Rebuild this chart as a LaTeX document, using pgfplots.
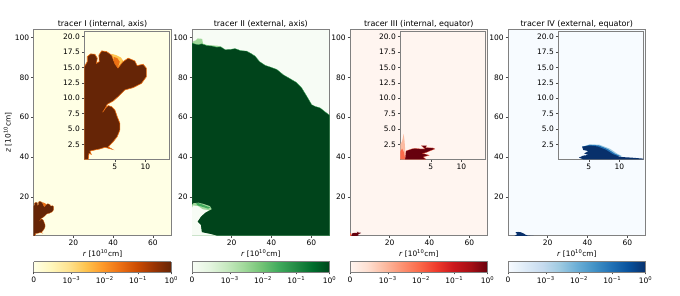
\documentclass[border=0pt]{standalone}
\usepackage{fontspec}
\setmainfont{DejaVu Sans}
\usepackage{pgfplots}
\usepackage{pgfplotstable}
\pgfplotsset{compat=1.18}
\definecolor{ybg}{HTML}{FFFFE5}\definecolor{ydk}{HTML}{662506}\definecolor{ymd}{HTML}{EC7014}\definecolor{ylt}{HTML}{FEC44F}
\definecolor{gbg}{HTML}{F7FCF5}\definecolor{gdk}{HTML}{00441B}\definecolor{gmd}{HTML}{41AB5D}\definecolor{glt}{HTML}{A1D99B}
\definecolor{rbg}{HTML}{FFF5F0}\definecolor{rdk}{HTML}{67000D}\definecolor{rmd}{HTML}{FB6A4A}\definecolor{rlt}{HTML}{FCBBA1}
\definecolor{bbg}{HTML}{F7FBFF}\definecolor{bdk}{HTML}{08306B}\definecolor{bmd}{HTML}{2171B5}\definecolor{blt}{HTML}{9ECAE1}
\definecolor{spine}{gray}{0.5}
\pgfplotsset{
 colormap={cI}{HTML=(FFFFE5) HTML=(FFF7BC) HTML=(FEE391) HTML=(FEC44F) HTML=(FE9929) HTML=(EC7014) HTML=(CC4C02) HTML=(993404) HTML=(662506)},
 colormap={cII}{HTML=(F7FCF5) HTML=(E5F5E0) HTML=(C7E9C0) HTML=(A1D99B) HTML=(74C476) HTML=(41AB5D) HTML=(238B45) HTML=(006D2C) HTML=(00441B)},
 colormap={cIII}{HTML=(FFF5F0) HTML=(FEE0D2) HTML=(FCBBA1) HTML=(FC9272) HTML=(FB6A4A) HTML=(EF3B2C) HTML=(CB181D) HTML=(A50F15) HTML=(67000D)},
 colormap={cIV}{HTML=(F7FBFF) HTML=(DEEBF7) HTML=(C6DBEF) HTML=(9ECAE1) HTML=(6BAED6) HTML=(4292C6) HTML=(2171B5) HTML=(08519C) HTML=(08306B)},
 base/.style={scale only axis,anchor=south west,axis line style={draw=spine,line width=0.7pt},
   tick style={draw=black!70,line width=0.4pt},major tick length=2.4pt,tick align=outside,
   xtick pos=bottom,ytick pos=left,
   tick label style={font=\fontsize{7.5}{8}\selectfont},
   label style={font=\fontsize{7.4}{8}\selectfont},
   title style={font=\fontsize{8}{9}\selectfont,at={(0.5,1)},anchor=south,yshift=-8pt},
   xticklabel style={yshift=1.5pt},yticklabel style={xshift=1.5pt}},
 mainax/.style={base,width=137.6pt,height=206.4pt,xmin=0.1,xmax=69.2,ymin=0.4,ymax=104.2,
   xtick={20,40,60},xticklabels={20,40,60},ytick={20,40,60,80,100},yticklabels={20,40,60,80,100},
   xlabel={\textit{r} [10\textsuperscript{10}cm]},xlabel style={yshift=3pt}},
 insetax/.style={base,width=85pt,height=127.6pt,xmin=0,xmax=13.9,ymin=0.06,ymax=20.8,
   xtick={5,10},xticklabels={5,10},ytick={2.5,5,7.5,10,12.5,15,17.5,20},
   yticklabels={2.5,5.0,7.5,10.0,12.5,15.0,17.5,20.0}},
 cbax/.style={base,width=137.6pt,height=10.3pt,xmin=0,xmax=1,ymin=0,ymax=1,view={0}{90},axis on top,
   ytick=\empty,xtick={0,0.274,0.516,0.758,1},
   xticklabels={0,10\textsuperscript{−3},10\textsuperscript{−2},10\textsuperscript{−1},10\textsuperscript{0}},
   point meta min=0,point meta max=1},
}
\pgfplotstableread{
x y
0 0.06
0.65 0.06
0.76 1.03
1.14 0.87
0.92 1.4
1.74 1.58
2.55 1.74
3.37 2.01
4.57 1.69
3.91 2.07
4.73 2.93
5.38 3.75
5.82 4.83
5.82 5.91
5.38 7.0
5.0 8.08
4.46 8.62
3.91 8.79
3.53 8.46
3.0 7.7
3.42 8.35
3.75 9.0
4.73 9.54
5.54 10.25
6.63 11.33
7.99 11.71
9.35 12.4
10.16 13.5
10.16 14.86
9.62 15.5
8.64 15.3
8.26 16.05
7.17 16.5
6.3 15.9
5.5 14.9
5.0 15.6
4.46 17.0
3.64 17.57
2.83 17.68
2.39 17.0
2.45 15.94
2.0 15.67
2.12 16.5
1.74 17.13
1.03 17.19
0.49 16.75
0.49 15.94
0 15.1
}\tI
\pgfplotstableread{
x y
4.46 17.2
5.2 17.0
6.0 16.6
6.4 16.0
5.7 14.7
5.0 15.4
}\tIf
\pgfplotstableread{
x y
4.8 16.7
5.4 16.5
5.8 15.9
5.5 15.0
4.9 15.6
}\tIg
\pgfplotstableread{
x y
0.1 0.4
0.1 97.4
1.5 96.8
3.3 96.5
5.0 96.9
7.5 96.0
10.0 95.8
12.5 95.2
14.5 95.4
16.7 94.0
19.5 94.1
21.7 94.5
24.5 93.5
27.6 93.2
29.8 92.0
31.8 90.7
34.0 88.0
36.8 86.1
39.5 85.2
42.7 84.0
46.0 81.3
49.3 79.4
52.5 77.5
55.2 74.7
57.7 70.6
60.2 66.3
62.0 65.4
64.4 64.7
66.8 62.8
69.2 61.0
69.2 0.4
}\tII
\pgfplotstableread{
x y
0.1 96
0.8 98.2
2.0 98.6
3.0 99.6
5.2 99.4
5.6 97
8.0 96.2
12.5 96.0
15 95.4
12 94
0.1 94
}\tIIf
\pgfplotstableread{
x y
0.1 0.4
12.5 0.4
9.1 1.25
4.96 2.1
4.46 5.8
2.8 7.46
4.46 10
6.64 12
10 13.7
9.1 15.3
5.8 16.4
3.3 17
0.77 16.7
0.1 15.8
}\tIIg
\pgfplotstableread{
x y
0.1 0.4
12.5 0.4
9.1 1.25
4.96 2.1
4.46 5.8
2.8 7.46
4.46 10
6.64 12
8.5 13.2
5.4 13.7
3.3 15.2
0.8 15.6
0.1 14.5
}\tIIh
\pgfplotstableread{
x y
2.0 16.6
3.4 16.8
5.0 16.2
7.0 15.4
9.2 14.6
8.2 14.0
6.4 14.6
4.4 15.2
3.0 15.6
}\tIIs
\pgfplotstableread{
x y
0.77 0.06
0.93 1.42
1.85 1.74
2.4 1.85
3.32 1.74
4.03 1.74
3.43 2.28
4.3 2.28
4.13 1.96
5.38 1.9
5.66 1.74
4.84 1.42
4.19 1.14
3.65 1.04
4.73 0.71
3.75 0.44
4.19 0.06
}\tIII
\pgfplotstableread{
x y
0 0.06
0 2.5
0.3 3
0.55 4.2
0.7 3
0.8 1.5
0.8 0.06
}\tIIIs
\pgfplotstableread{
x y
0 0.06
0 1.3
0.3 1.8
0.6 1.2
0.8 0.06
}\tIIIt
\pgfplotstableread{
x y
4.07 0.06
3.37 0.33
4.07 0.66
4.9 0.76
4.24 1.0
4.9 1.4
4.07 1.58
3.9 2.1
5.16 2.3
6.4 2.15
7.8 1.6
8.9 0.9
10.1 0.44
12 0.33
13.86 0.17
16 0.06
}\tIV
\pgfplotstableread{
x y
3.9 2.1
5.16 2.4
6.6 2.32
8.1 1.72
9.2 1.0
10.33 0.5
9.0 0.6
}\tIVg
\pgfplotstableread{
x y
3.9 2.1
5.16 2.5
6.7 2.44
8.4 1.8
9.6 1.0
10.5 0.55
9.0 0.6
}\tIVf
\begin{document}
\begin{tikzpicture}
\useasboundingbox (0pt,0pt) rectangle (680pt,295pt);
% Panel I
\begin{axis}[mainax,at={(33.7pt,59.3pt)},axis background/.style={fill=ybg},title={tracer I (internal, axis)},
  ylabel={\textit{z} [10\textsuperscript{10}cm]},ylabel style={yshift=-3.5pt}]
\addplot[fill=ymd,draw=none,forget plot] table {\tIf} -- cycle;
\addplot[fill=ydk,draw=ymd,line width=0.2pt] table {\tI} -- cycle;
\end{axis}
\begin{axis}[insetax,at={(84.3pt,135.7pt)},axis background/.style={fill=ybg}]
\addplot[fill=ylt,draw=none,forget plot] table {\tIf} -- cycle;
\addplot[fill=ymd,draw=none,forget plot] table {\tIg} -- cycle;
\addplot[fill=ydk,draw=ymd,line width=0.6pt] table {\tI} -- cycle;
\end{axis}
\begin{axis}[cbax,at={(33.7pt,23pt)},colormap name=cI]
\addplot3[surf,shader=interp,point meta=x,mesh/cols=2] coordinates {(0,0,0)(1,0,0)(0,1,0)(1,1,0)};
\end{axis}
% Panel II
\begin{axis}[mainax,at={(192pt,59.3pt)},axis background/.style={fill=gbg},title={tracer II (external, axis)}]
\addplot[fill=glt,draw=none,forget plot] table {\tIIf} -- cycle;
\addplot[fill=gdk,draw=gmd,line width=0.3pt] table {\tII} -- cycle;
\addplot[fill=glt,draw=none] table {\tIIg} -- cycle;
\addplot[fill=gmd,draw=none] table {\tIIs} -- cycle;
\addplot[fill=gbg,draw=none] table {\tIIh} -- cycle;
\end{axis}
\begin{axis}[cbax,at={(192pt,23pt)},colormap name=cII]
\addplot3[surf,shader=interp,point meta=x,mesh/cols=2] coordinates {(0,0,0)(1,0,0)(0,1,0)(1,1,0)};
\end{axis}
% Panel III
\begin{axis}[mainax,at={(350pt,59.3pt)},axis background/.style={fill=rbg},title={tracer III (internal, equator)}]
\addplot[fill=rdk,draw=none] table {\tIII} -- cycle;
\addplot[fill=rmd,draw=none] table {\tIIIt} -- cycle;
\end{axis}
\begin{axis}[insetax,at={(400.3pt,135.7pt)},axis background/.style={fill=rbg}]
\addplot[fill=rlt,draw=none] table {\tIIIs} -- cycle;
\addplot[fill=rmd,draw=none] table {\tIIIt} -- cycle;
\addplot[fill=rdk,draw=rmd,line width=0.2pt] table {\tIII} -- cycle;
\end{axis}
\begin{axis}[cbax,at={(350pt,23pt)},colormap name=cIII]
\addplot3[surf,shader=interp,point meta=x,mesh/cols=2] coordinates {(0,0,0)(1,0,0)(0,1,0)(1,1,0)};
\end{axis}
% Panel IV
\begin{axis}[mainax,at={(508pt,59.3pt)},axis background/.style={fill=bbg},title={tracer IV (external, equator)}]
\addplot[fill=bdk,draw=none] table {\tIV} -- cycle;
\end{axis}
\begin{axis}[insetax,at={(558.3pt,135.7pt)},axis background/.style={fill=bbg}]
\addplot[fill=blt,draw=none] table {\tIVf} -- cycle;
\addplot[fill=bmd,draw=none] table {\tIVg} -- cycle;
\addplot[fill=bdk,draw=none] table {\tIV} -- cycle;
\end{axis}
\begin{axis}[cbax,at={(508pt,23pt)},colormap name=cIV]
\addplot3[surf,shader=interp,point meta=x,mesh/cols=2] coordinates {(0,0,0)(1,0,0)(0,1,0)(1,1,0)};
\end{axis}
\end{tikzpicture}
\end{document}
